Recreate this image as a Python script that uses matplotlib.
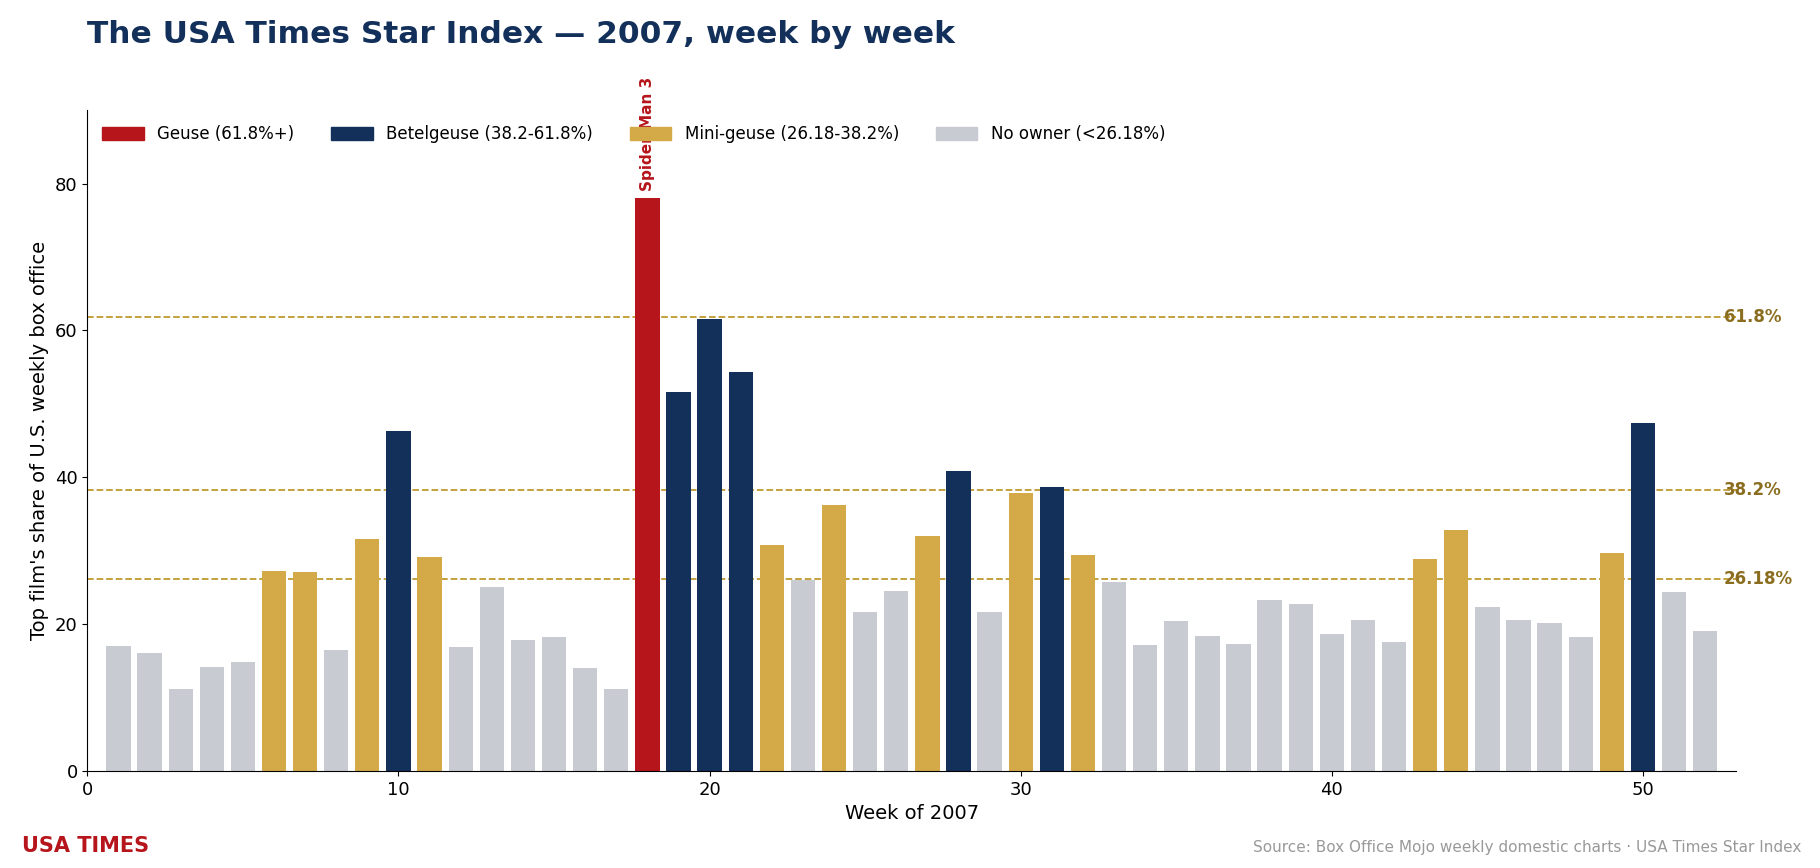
import numpy as np
import matplotlib.pyplot as plt
from matplotlib.patches import Patch

weeks = list(range(1, 53))
share = [17.0, 16.0, 11.2, 14.1, 14.8, 27.2, 27.1, 16.5, 31.6, 46.3,
         29.1, 16.8, 25.1, 17.8, 18.2, 14.0, 11.1, 78.0, 51.6, 61.6,
         54.4, 30.8, 26.0, 36.2, 21.6, 24.5, 32.0, 40.8, 21.7, 37.8,
         38.6, 29.4, 25.7, 17.2, 20.4, 18.3, 17.3, 23.3, 22.7, 18.7,
         20.5, 17.5, 28.8, 32.8, 22.3, 20.6, 20.2, 18.2, 29.7, 47.4,
         24.3, 19.1]
thresholds = [61.8, 38.2, 26.18]
threshold_labels = ['61.8%', '38.2%', '26.18%']

RED, NAVY, GOLD, GREY = '#b5151b', '#12305a', '#d4a947', '#c9cbd2'

def colour(v):
    if v >= 61.8:
        return RED
    if v >= 38.2:
        return NAVY
    if v >= 26.18:
        return GOLD
    return GREY

fig = plt.figure(figsize=(18.2, 8.68), dpi=100)
ax = fig.add_axes([0.048, 0.112, 0.906, 0.761])
ax.bar(weeks, share, width=0.78, color=[colour(v) for v in share], zorder=2)

for t, lab in zip(thresholds, threshold_labels):
    ax.axhline(t, color='#c09a2e', ls='--', lw=1.3, zorder=1)
    ax.text(52.6, t, lab, color='#8a6d1e', fontsize=12, fontweight='bold', va='center')

ax.text(18, 79, 'Spider-Man 3', rotation=90, color=RED, fontsize=11,
        fontweight='bold', ha='center', va='bottom')

ax.set_xlim(0, 53)
ax.set_ylim(0, 90)
ax.set_yticks([0, 20, 40, 60, 80])
ax.tick_params(labelsize=13)
ax.set_xlabel('Week of 2007', fontsize=14)
ax.set_ylabel("Top film's share of U.S. weekly box office", fontsize=14)
ax.spines['top'].set_visible(False)
ax.spines['right'].set_visible(False)

handles = [Patch(color=RED, label='Geuse (61.8%+)'),
           Patch(color=NAVY, label='Betelgeuse (38.2-61.8%)'),
           Patch(color=GOLD, label='Mini-geuse (26.18-38.2%)'),
           Patch(color=GREY, label='No owner (<26.18%)')]
ax.legend(handles=handles, loc='upper left', ncol=4, frameon=False, fontsize=12,
          handlelength=2.5, handleheight=0.8, columnspacing=2.2)

fig.text(0.048, 0.95, 'The USA Times Star Index \u2014 2007, week by week',
         fontsize=22.5, fontweight='bold', color='#12305a')
fig.text(0.012, 0.018, 'USA TIMES', fontsize=15, fontweight='bold', color=RED)
fig.text(0.99, 0.018, 'Source: Box Office Mojo weekly domestic charts \u00b7 USA Times Star Index',
         fontsize=11, color='#999999', ha='right')

fig.savefig('out.png', dpi=100)
